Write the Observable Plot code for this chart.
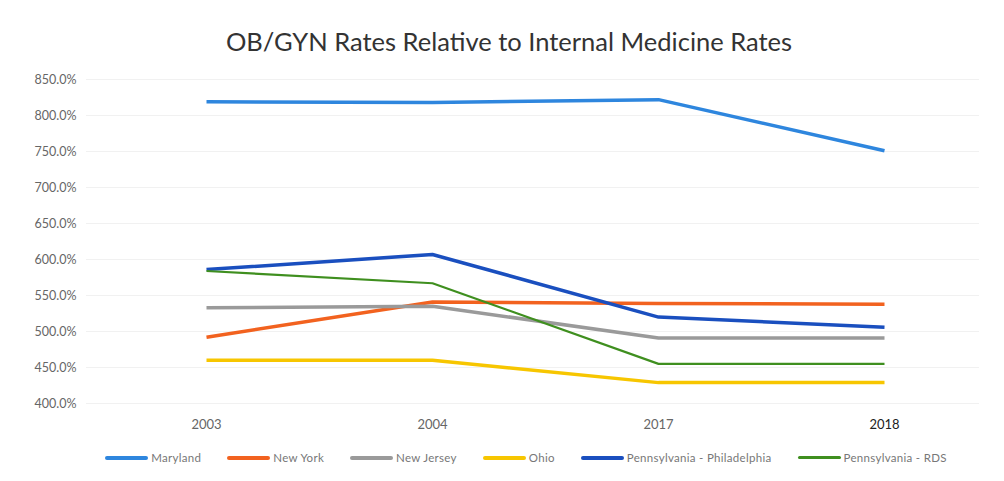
<!DOCTYPE html>
<html>
<head>
<meta charset="utf-8">
<script src="https://cdn.jsdelivr.net/npm/d3@7"></script>
<script src="https://cdn.jsdelivr.net/npm/@observablehq/plot@0.6"></script>
<style>
  html, body { margin: 0; padding: 0; background: #fff; }
  #wrap { position: relative; width: 1004px; height: 481px; box-sizing: border-box; font-family: Lato, "Open Sans", sans-serif; }
  #title { position: absolute; top: 26px; left: 7px; width: 1004px; text-align: center; font-size: 25.5px; color: #333; }
  #chart { position: absolute; top: 62px; left: 0; }
  #legend { position: absolute; top: 451px; left: 24px; width: 1004px; display: flex; justify-content: center; font-size: 11.5px; color: #777; letter-spacing: 0.3px; }
  .item { display: flex; align-items: center; margin: 0 13px; }
  .sw { width: 43px; height: 4px; margin-right: 3px; border-radius: 2px; }
</style>
</head>
<body>
<div id="wrap">
  <div id="title">OB/GYN Rates Relative to Internal Medicine Rates</div>
  <div id="chart"></div>
  <div id="legend"></div>
</div>
<script>
const years = ["2003", "2004", "2017", "2018"];
const seriesNames = ["Maryland", "New York", "New Jersey", "Ohio", "Pennsylvania - Philadelphia", "Pennsylvania - RDS"];
const seriesColors = ["#2e86de", "#f2621f", "#9a9a9a", "#f7c600", "#1a4fbf", "#3f8f1f"];
const seriesWidths = [3.5, 3.5, 3.5, 3.5, 3.5, 2.2];
const maryland = [819, 818, 822, 751];
const newYork = [492, 541, 539, 538];
const newJersey = [533, 535, 491, 491];
const ohio = [460, 460, 429, 429];
const paPhiladelphia = [586, 607, 520, 506];
const paRDS = [584, 567, 455, 455];
const yTicks = [400, 450, 500, 550, 600, 650, 700, 750, 800, 850];

const allValues = [maryland, newYork, newJersey, ohio, paPhiladelphia, paRDS];
const rows = [];
seriesNames.forEach((name, i) => {
  years.forEach((yr, j) => rows.push({series: name, year: yr, value: allValues[i][j]}));
});

const marks = [
  Plot.gridY(yTicks, {stroke: "#f1f1f1", strokeOpacity: 1, strokeWidth: 1}),
  Plot.axisY(yTicks, {tickSize: 0, tickPadding: 10, tickFormat: d => d.toFixed(1) + "%", fontSize: 12.5, fill: "#666"}),
  Plot.axisX({tickSize: 0, tickPadding: 16, fontSize: 13, fill: "#666"})
];
seriesNames.forEach((name, i) => {
  marks.push(Plot.line(rows.filter(r => r.series === name), {
    x: "year", y: "value", stroke: seriesColors[i], strokeWidth: seriesWidths[i],
    strokeLinejoin: "round", strokeLinecap: "butt"
  }));
});

const chart = Plot.plot({
  width: 1004,
  height: 375,
  marginTop: 17,
  marginBottom: 34,
  marginLeft: 86,
  marginRight: 25,
  style: {fontFamily: "Lato, 'Open Sans', sans-serif", background: "transparent"},
  x: {type: "point", domain: years, range: [205, 885], padding: 0, label: null},
  y: {domain: [400, 850], label: null},
  marks
});
document.getElementById("chart").appendChild(chart);
// darker last x tick label, like the reference
const xTexts = chart.querySelectorAll('g[aria-label="x-axis tick label"] text');
if (xTexts.length) xTexts[xTexts.length - 1].setAttribute("fill", "#222");

const legend = document.getElementById("legend");
seriesNames.forEach((name, i) => {
  const it = document.createElement("div");
  it.className = "item";
  const sw = document.createElement("div");
  sw.className = "sw";
  sw.style.background = seriesColors[i];
  if (i === 5) sw.style.height = "3px";
  it.appendChild(sw);
  const t = document.createElement("span");
  t.textContent = name;
  it.appendChild(t);
  legend.appendChild(it);
});
</script>
</body>
</html>
